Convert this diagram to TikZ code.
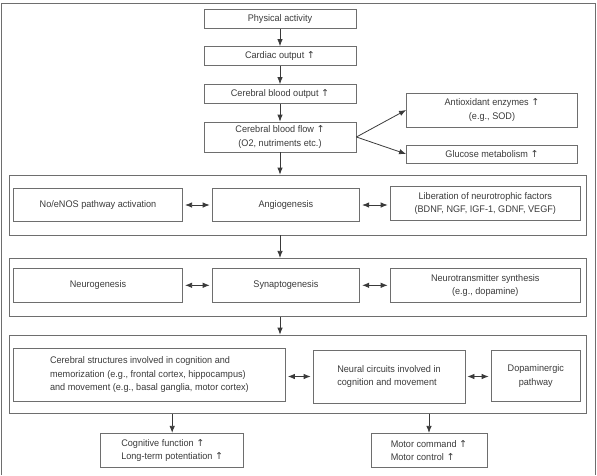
\documentclass[tikz,border=0pt]{standalone}
\usepackage{fontspec}
\setmainfont[FakeStretch=0.95]{Liberation Sans}
\newfontfamily\arrowfont{DejaVu Sans}
\usetikzlibrary{arrows.meta}
\definecolor{linegray}{HTML}{6E6E6E}
\definecolor{textgray}{HTML}{3A3A3A}
\newcommand{\incr}{~{\arrowfont ↑}}
\begin{document}
\begin{tikzpicture}[
    x=1pt, y=-1pt,
    box/.style={draw=linegray, line width=0.8pt, text=textgray, inner sep=0pt,
      align=center, font=\fontsize{9.6}{13.5}\selectfont},
    group/.style={draw=linegray, line width=0.8pt, inner sep=0pt},
    link/.style={draw=textgray, line width=0.8pt},
    >={Latex[length=7pt,width=5.5pt]}
  ]
  \useasboundingbox (0,0) rectangle (597,475);
  % outer frame, open at the bottom
  \draw[linegray, line width=0.8pt] (1.7,475) -- (1.7,3) -- (595,3) -- (595,475);
  % central column
  \node[box, minimum width=152pt, minimum height=19pt] (act) at (280,19) {Physical activity};
  \node[box, minimum width=152pt, minimum height=19pt] (card) at (280,56) {Cardiac output\incr};
  \node[box, minimum width=152pt, minimum height=19pt] (cbo) at (280,94) {Cerebral blood output\incr};
  \node[box, minimum width=152pt, minimum height=30pt] (cbf) at (280,137) {Cerebral blood flow\incr\\(O2, nutriments etc.)};
  \node[box, minimum width=171pt, minimum height=34pt] (anti) at (492,110) {Antioxidant enzymes\incr\\(e.g., SOD)};
  \node[box, minimum width=171pt, minimum height=18pt] (gluc) at (492,154) {Glucose metabolism\incr};
  % first group
  \node[group, minimum width=576.5pt, minimum height=60pt] (g1) at (297.75,205) {};
  \node[box, minimum width=169.4pt, minimum height=33.4pt] (nos) at (98,205) {No/eNOS pathway activation};
  \node[box, minimum width=147.7pt, minimum height=33.4pt] (angio) at (285.9,205) {Angiogenesis};
  \node[box, minimum width=190.5pt, minimum height=33.4pt] (lib) at (485.3,203.3) {Liberation of neurotrophic factors\\(BDNF, NGF, IGF-1, GDNF, VEGF)};
  % second group
  \node[group, minimum width=576.5pt, minimum height=58.4pt] (g2) at (297.75,287.5) {};
  \node[box, minimum width=169.4pt, minimum height=34pt] (neuro) at (98,285.3) {Neurogenesis};
  \node[box, minimum width=147.7pt, minimum height=34pt] (syn) at (285.9,285.3) {Synaptogenesis};
  \node[box, minimum width=190.5pt, minimum height=34pt] (ntx) at (485.3,285.3) {Neurotransmitter synthesis\\(e.g., dopamine)};
  % third group
  \node[group, minimum width=576.5pt, minimum height=78.3pt] (g3) at (297.75,374.2) {};
  \node[box, minimum width=272.2pt, minimum height=53.4pt, align=left] (cs) at (149.4,375) {Cerebral structures involved in cognition and\\memorization (e.g., frontal cortex, hippocampus)\\and movement (e.g., basal ganglia, motor cortex)};
  \node[box, minimum width=152pt, minimum height=53pt, align=left] (nc) at (389,376.5) {Neural circuits involved in\\cognition and movement};
  \node[box, minimum width=89.5pt, minimum height=51.7pt] (dop) at (535.8,375.8) {Dopaminergic\\pathway};
  % outcomes
  \node[box, minimum width=142.7pt, minimum height=34.4pt, align=left] (cog) at (172.2,450.5) {Cognitive function\incr\\Long-term potentiation\incr};
  \node[box, minimum width=116pt, minimum height=34.4pt, align=left] (mot) at (429,450.5) {Motor command\incr\\Motor control\incr};
  % connectors
  \draw[link, ->] (act) -- (card);
  \draw[link, ->] (card) -- (cbo);
  \draw[link, ->] (cbo) -- (cbf);
  \draw[link, ->] (cbf.east) -- (anti.west);
  \draw[link, ->] (cbf.east) -- (gluc.west);
  \draw[link, ->] (cbf.south) -- (cbf.south |- g1.north);
  \draw[link, ->] (g1.south -| cbf) -- (g2.north -| cbf);
  \draw[link, ->] (g2.south -| cbf) -- (g3.north -| cbf);
  \draw[link, <->, shorten <=2pt, shorten >=2pt] (nos) -- (angio);
  \draw[link, <->, shorten <=2pt, shorten >=2pt] (angio.east) -- (angio.east -| lib.west);
  \draw[link, <->, shorten <=2pt, shorten >=2pt] (neuro) -- (syn);
  \draw[link, <->, shorten <=2pt, shorten >=2pt] (syn) -- (ntx);
  \draw[link, <->, shorten <=2pt, shorten >=2pt] (cs.east |- nc.west) -- (nc.west);
  \draw[link, <->, shorten <=2pt, shorten >=2pt] (nc.east) -- (nc.east -| dop.west);
  \draw[link, ->] (cog.north |- g3.south) -- (cog.north);
  \draw[link, ->] (mot.north |- g3.south) -- (mot.north);
\end{tikzpicture}
\end{document}
